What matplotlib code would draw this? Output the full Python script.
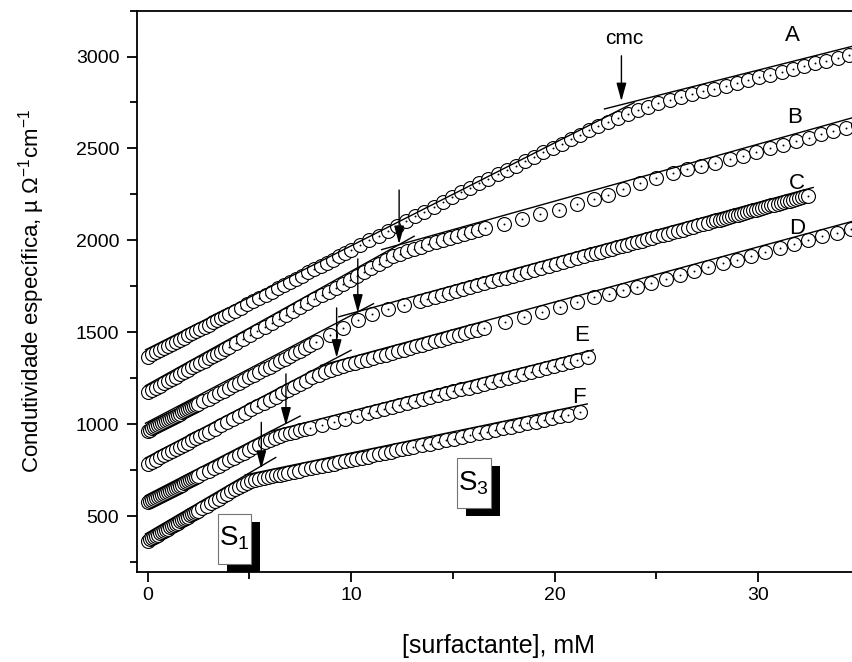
import matplotlib

matplotlib.use("Agg")
import matplotlib.pyplot as plt
import matplotlib.transforms as mtransforms
from matplotlib.patches import Rectangle
from matplotlib.path import Path
from matplotlib.ticker import MultipleLocator

plt.rcParams["font.family"] = ["Liberation Sans", "DejaVu Sans"]
plt.rcParams["mathtext.fontset"] = "custom"
plt.rcParams["mathtext.rm"] = "Liberation Sans"
plt.rcParams["mathtext.it"] = "Liberation Sans:italic"

# conductivity (uS/cm) vs surfactant concentration (mM), series A-F
a_x = [0, 0.2, 0.4, 0.6, 0.8, 1.0, 1.2, 1.4, 1.6, 1.8, 2.0, 2.2, 2.4, 2.6, 2.8, 3.0, 3.2, 3.4, 3.6, 3.8, 4.0,
       4.3, 4.6, 4.9, 5.2, 5.5, 5.8, 6.1, 6.4, 6.7, 7.0, 7.3, 7.6, 7.9, 8.2, 8.5, 8.8, 9.1, 9.4, 9.7, 10.0,
       10.45, 10.9, 11.35, 11.8, 12.25, 12.7, 13.15, 13.6, 14.05, 14.5, 14.95, 15.4, 15.85, 16.3, 16.75,
       17.2, 17.65, 18.1, 18.55, 19.0, 19.45, 19.9, 20.35, 20.8, 21.25, 21.7, 22.15, 22.6, 23.1, 23.6,
       24.1, 24.6, 25.1, 25.65, 26.2, 26.75, 27.3, 27.85, 28.4, 28.95, 29.5, 30.05, 30.6, 31.15, 31.7,
       32.25, 32.8, 33.35, 33.9, 34.45, 35.0]
a_y = [1368, 1380, 1391, 1403, 1414, 1426, 1438, 1449, 1461, 1472, 1484, 1496, 1507, 1519, 1530, 1542,
       1554, 1565, 1577, 1588, 1600,
       1617, 1635, 1652, 1670, 1687, 1704, 1722, 1739, 1757, 1774, 1791, 1809, 1826, 1844, 1861, 1878,
       1896, 1913, 1931, 1948,
       1974, 2000, 2026, 2052, 2079, 2105, 2131, 2157, 2183, 2209, 2235, 2261, 2287, 2312, 2336,
       2360, 2384, 2407, 2431, 2455, 2479, 2503, 2527, 2550, 2574, 2598, 2622, 2645, 2665, 2687,
       2707, 2728, 2747, 2764, 2779, 2795, 2810, 2825, 2840, 2856, 2871, 2886, 2902, 2917, 2932,
       2947, 2963, 2978, 2993, 3008, 3024]

b_x = [0, 0.2, 0.4, 0.6, 0.8, 1.0, 1.2, 1.4, 1.6, 1.8, 2.0, 2.2, 2.4, 2.6, 2.8, 3.0, 3.2, 3.4, 3.6, 3.8, 4.0,
       4.35, 4.7, 5.05, 5.4, 5.75, 6.1, 6.45, 6.8, 7.15, 7.5, 7.85, 8.2, 8.55, 8.9, 9.25, 9.6, 9.95, 10.3,
       10.65, 11.0, 11.35, 11.7, 12.05, 12.4, 12.75, 13.1, 13.45, 13.8, 14.15, 14.5, 14.85, 15.2, 15.55,
       15.9, 16.25, 16.6,
       17.5, 18.4, 19.3, 20.2, 21.1, 21.95, 22.6, 23.36, 24.2, 25.0, 25.8, 26.5, 27.2, 27.86, 28.6,
       29.25, 29.9, 30.56, 31.2, 31.87, 32.5, 33.1, 33.67, 34.3, 34.9]
b_y = [1174, 1186, 1199, 1211, 1223, 1236, 1248, 1260, 1273, 1285, 1297, 1310, 1322, 1334, 1346, 1359,
       1371, 1383, 1396, 1408, 1420,
       1442, 1464, 1485, 1507, 1528, 1550, 1571, 1593, 1614, 1636, 1658, 1679, 1701, 1722, 1744, 1765,
       1787, 1808, 1830, 1852, 1873, 1893, 1913, 1928, 1942, 1955, 1967, 1978, 1989, 2000, 2011, 2022,
       2033, 2044, 2055, 2066,
       2088, 2115, 2142, 2168, 2196, 2223, 2248, 2279, 2311, 2340, 2366, 2388, 2404, 2421, 2442,
       2460, 2480, 2500, 2520, 2540, 2559, 2576, 2593, 2611, 2628]

c_x = [0, 0.1, 0.2, 0.3, 0.4, 0.5, 0.6, 0.7, 0.8, 0.9, 1.0, 1.1, 1.2, 1.3, 1.4, 1.5, 1.6, 1.7, 1.8, 1.9,
       2.0, 2.1, 2.2, 2.3, 2.4, 2.5,
       2.75, 3.0, 3.25, 3.5, 3.75, 4.0, 4.25, 4.5, 4.75, 5.0, 5.25, 5.5, 5.75, 6.0, 6.25, 6.5, 6.75, 7.0,
       7.25, 7.5, 7.75, 8.0, 8.3,
       8.96, 9.6, 10.33, 11.05, 11.8, 12.6, 13.4,
       13.75, 14.1, 14.45, 14.8, 15.15, 15.5, 15.85, 16.2, 16.55, 16.9, 17.25, 17.6, 17.95, 18.3, 18.65,
       19.0, 19.35, 19.7, 20.05, 20.4, 20.75, 21.1, 21.45, 21.8,
       22.05, 22.3, 22.55, 22.8, 23.05, 23.3, 23.55, 23.8, 24.05, 24.3, 24.55, 24.8, 25.05, 25.3, 25.55,
       25.8, 26.05, 26.3, 26.55, 26.8, 27.05, 27.3, 27.55, 27.8,
       27.95, 28.1, 28.25, 28.4, 28.55, 28.7, 28.85, 29.0, 29.15, 29.3, 29.45, 29.6, 29.75, 29.9, 30.05,
       30.2, 30.35, 30.5, 30.65, 30.8, 30.95, 31.1, 31.25, 31.4, 31.55, 31.7, 31.85, 32.0, 32.15, 32.3,
       32.44]
c_y = [966, 972, 978, 983, 989, 995, 1001, 1007, 1012, 1018, 1024, 1030, 1036, 1041, 1047, 1053, 1059,
       1065, 1070, 1076, 1082, 1088, 1094, 1099, 1105, 1111,
       1126, 1140, 1155, 1169, 1184, 1198, 1213, 1227, 1242, 1256, 1271, 1285, 1300, 1314, 1329, 1343,
       1358, 1372, 1387, 1401, 1416, 1430, 1447,
       1486, 1523, 1565, 1600, 1627, 1651, 1672,
       1683, 1693, 1704, 1714, 1725, 1735, 1746, 1756, 1767, 1777, 1788, 1798, 1809, 1819, 1830,
       1840, 1851, 1861, 1872, 1882, 1893, 1903, 1914, 1924,
       1932, 1939, 1947, 1954, 1962, 1969, 1977, 1984, 1992, 1999, 2007, 2014, 2022, 2029, 2037,
       2044, 2052, 2059, 2067, 2074, 2082, 2089, 2097, 2104,
       2109, 2113, 2118, 2122, 2127, 2131, 2136, 2140, 2145, 2149, 2154, 2158, 2163, 2167, 2172,
       2176, 2181, 2185, 2190, 2194, 2199, 2203, 2208, 2212, 2217, 2221, 2226, 2230, 2235, 2239,
       2243]

d_x = [0, 0.2, 0.4, 0.6, 0.8, 1.0, 1.2, 1.4, 1.6, 1.8, 2.0, 2.2, 2.4, 2.6, 2.8, 3.0,
       3.3, 3.6, 3.9, 4.2, 4.5, 4.8, 5.1, 5.4, 5.7, 6.0, 6.3, 6.6, 6.9, 7.2, 7.5, 7.8, 8.1, 8.4, 8.7,
       9.0, 9.3, 9.6, 9.9, 10.2, 10.5, 10.8, 11.1, 11.4, 11.7, 12.0, 12.3, 12.6, 12.9, 13.2, 13.5,
       13.8, 14.1, 14.4, 14.7, 15.0, 15.3, 15.6, 15.9, 16.2, 16.55,
       17.58, 18.48, 19.38, 20.25, 21.1, 21.92, 22.65, 23.35, 24.05, 24.75, 25.45, 26.15, 26.85,
       27.55, 28.25, 28.95, 29.65, 30.35, 31.05, 31.75, 32.45, 33.15, 33.85, 34.55]
d_y = [785, 797, 808, 820, 831, 843, 855, 866, 878, 889, 901, 913, 924, 936, 947, 959,
       976, 994, 1011, 1029, 1046, 1063, 1081, 1098, 1116, 1133, 1150, 1168, 1185, 1203, 1220, 1237,
       1255, 1270, 1284, 1297, 1309, 1319, 1328, 1334, 1343, 1352, 1361, 1370, 1379, 1388, 1397, 1406,
       1415, 1424, 1433, 1442, 1451, 1460, 1469, 1478, 1487, 1496, 1505, 1514, 1524,
       1558, 1585, 1612, 1638, 1664, 1690, 1707, 1728, 1749, 1770, 1791, 1812, 1833,
       1854, 1875, 1896, 1917, 1938, 1959, 1980, 2001, 2022, 2043, 2064]

e_x = [0, 0.1, 0.2, 0.3, 0.4, 0.5, 0.6, 0.7, 0.8, 0.9, 1.0, 1.1, 1.2, 1.3, 1.4, 1.5, 1.6, 1.7, 1.8, 1.9,
       2.0, 2.1, 2.2, 2.3, 2.4, 2.5,
       2.75, 3.0, 3.25, 3.5, 3.75, 4.0, 4.25, 4.5, 4.75, 5.0, 5.25, 5.5, 5.75, 6.0, 6.25, 6.5, 6.75, 7.0,
       7.25, 7.5, 7.75, 8.0,
       8.57, 9.14, 9.71, 10.28, 10.85,
       11.23, 11.61, 11.99, 12.37, 12.75, 13.13, 13.51, 13.89, 14.27, 14.65, 15.03, 15.41, 15.79, 16.17,
       16.55, 16.93, 17.31, 17.69, 18.07, 18.45, 18.83, 19.21, 19.59, 19.97, 20.35, 20.73, 21.11, 21.64]
e_y = [576, 582, 587, 593, 599, 605, 610, 616, 622, 627, 633, 639, 644, 650, 656, 662, 667, 673, 679,
       684, 690, 696, 701, 707, 713, 719,
       733, 747, 761, 776, 790, 804, 818, 833, 847, 861, 875, 890, 904, 916, 927, 937, 946, 954,
       961, 968, 975, 982,
       998, 1014, 1030, 1046, 1062,
       1073, 1083, 1094, 1105, 1115, 1126, 1136, 1147, 1158, 1168, 1179, 1190, 1200, 1211,
       1221, 1232, 1243, 1253, 1264, 1275, 1285, 1296, 1307, 1317, 1328, 1339, 1349, 1364]

f_x = [0, 0.1, 0.2, 0.3, 0.4, 0.5, 0.6, 0.7, 0.8, 0.9, 1.0, 1.1, 1.2, 1.3, 1.4, 1.5, 1.6, 1.7, 1.8, 1.9,
       2.0, 2.1, 2.2, 2.3, 2.4, 2.5,
       2.7, 2.9, 3.1, 3.3, 3.5, 3.7, 3.9, 4.1, 4.3, 4.5, 4.7, 4.9, 5.1, 5.3, 5.5, 5.7, 5.9, 6.1, 6.3,
       6.5, 6.7, 6.9,
       7.18, 7.46, 7.74, 8.02, 8.3, 8.58, 8.86, 9.14, 9.42, 9.7, 9.98, 10.26, 10.54, 10.82, 11.1,
       11.38, 11.66, 11.94, 12.22, 12.5, 12.78, 13.06,
       13.46, 13.86, 14.26, 14.66, 15.06, 15.46, 15.86, 16.26, 16.66, 17.06, 17.46, 17.86, 18.26,
       18.66, 19.06, 19.46, 19.86, 20.26, 20.66, 21.23]
f_y = [368, 375, 381, 388, 394, 401, 407, 414, 420, 427, 433, 440, 446, 453, 459, 466, 472, 479, 485,
       492, 498, 505, 511, 518, 524, 531,
       544, 557, 570, 583, 596, 609, 622, 635, 647, 659, 671, 682, 691, 698, 704, 709, 714, 718, 722,
       726, 731, 735,
       742, 748, 755, 761, 768, 774, 780, 787, 793, 800, 806, 813, 819, 825, 832,
       838, 845, 851, 858, 864, 871, 877,
       886, 895, 905, 914, 923, 932, 941, 951, 960, 969, 978, 987, 997,
       1006, 1015, 1024, 1033, 1043, 1052, 1065]

series_x = [a_x, b_x, c_x, d_x, e_x, f_x]
series_y = [a_y, b_y, c_y, d_y, e_y, f_y]
series_names = ["A", "B", "C", "D", "E", "F"]
name_pos = [(31.7, 3112), (31.8, 2666), (31.9, 2307), (31.9, 2067), (21.3, 1481), (21.2, 1145)]

# linear fits below and above the cmc: (x0, y0, x1, y1)
fits_pre = [(-0.1, 1405, 23.9, 2749), (-0.1, 1210, 13.1, 2023), (-0.1, 1006, 11.1, 1656),
            (-0.1, 817, 10.0, 1403), (-0.1, 612, 7.5, 1045), (-0.1, 404, 6.3, 820)]
fits_post = [(22.45, 2715, 35.5, 3080), (11.5, 1950, 35.5, 2694), (9.4, 1585, 32.7, 2288),
             (8.5, 1320, 35.5, 2130), (6.0, 960, 21.9, 1405), (4.8, 725, 21.6, 1111)]

# cmc arrows: x, tail, head
cmc_x = [23.28, 12.36, 10.33, 9.29, 6.8, 5.59]
cmc_tail = [3004, 2274, 1900, 1633, 1274, 1011]
cmc_head = [2757, 1980, 1607, 1362, 993, 758]

# S1 / S3 boxes: left, bottom, width, height
box_labels = [r"$\mathregular{S_1}$", r"$\mathregular{S_3}$"]
box_rects = [(3.46, 243, 1.62, 272), (15.19, 546, 1.67, 272)]

# circle with a centre dot, as in Origin's symbol set
dot_circle = Path.make_compound_path(Path.circle((0, 0), 1.0), Path.circle((0, 0), 0.06))

fig = plt.figure(figsize=(8.53, 6.62), dpi=100)
ax = fig.add_axes([0.161, 0.1367, 0.8472, 0.8474])

for xs, ys in zip(series_x, series_y):
    ax.plot(xs, ys, linestyle="none", marker=dot_circle, ms=10, mfc="white",
            mec="black", mew=0.8, zorder=2)

for x0, y0, x1, y1 in fits_pre + fits_post:
    ax.plot([x0, x1], [y0, y1], color="black", lw=1.0, zorder=3)

for x, tail, head in zip(cmc_x, cmc_tail, cmc_head):
    ax.annotate("", xy=(x, head), xytext=(x, tail),
                arrowprops=dict(arrowstyle="-|>,head_length=1.1,head_width=0.3",
                                color="black", lw=1.0, shrinkA=0, shrinkB=0), zorder=4)

for name, (x, y) in zip(series_names, name_pos):
    ax.text(x, y, name, fontsize=16, ha="center", va="center")
ax.text(23.4, 3100, "cmc", fontsize=15, ha="center", va="center")

shadow = ax.transData + mtransforms.ScaledTranslation(0.09, -0.08, fig.dpi_scale_trans)
for label, (bx, by, bw, bh) in zip(box_labels, box_rects):
    ax.add_patch(Rectangle((bx, by), bw, bh, transform=shadow, fc="black", ec="none", zorder=5))
    ax.add_patch(Rectangle((bx, by), bw, bh, fc="white", ec="0.45", lw=0.8, zorder=6))
    ax.text(bx + bw / 2, by + bh / 2, label, fontsize=20, ha="center", va="center", zorder=7)

ax.set_xlim(-0.5, 35)
ax.set_ylim(200, 3250)
ax.xaxis.set_major_locator(MultipleLocator(10))
ax.xaxis.set_minor_locator(MultipleLocator(5))
ax.yaxis.set_major_locator(MultipleLocator(500))
ax.yaxis.set_minor_locator(MultipleLocator(250))
ax.tick_params(which="both", direction="out", width=1.3, labelsize=14)
ax.tick_params(which="major", length=7)
ax.tick_params(which="minor", length=5)
ax.tick_params(axis="x", pad=4)
ax.tick_params(axis="y", pad=6)
for spine in ax.spines.values():
    spine.set_linewidth(1.3)

ax.set_xlabel("[surfactante], mM", fontsize=18, labelpad=22)
ax.set_ylabel("Condutividade específica, µ Ω$^{-1}$cm$^{-1}$", fontsize=16, labelpad=21)

fig.savefig("out.png", dpi=100)
